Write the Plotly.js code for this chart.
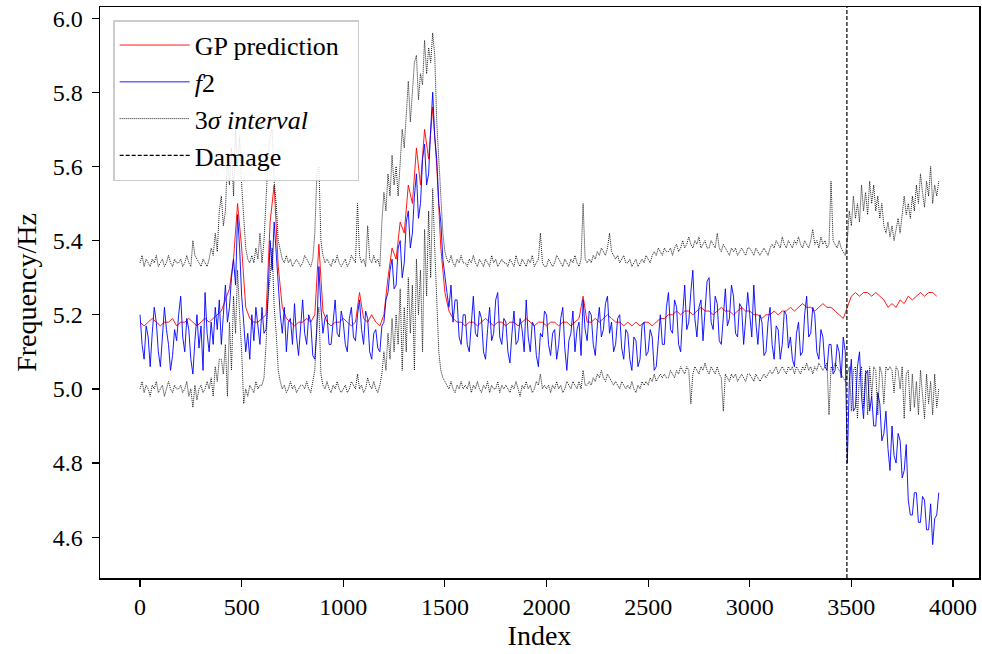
<!DOCTYPE html>
<html>
<head>
<meta charset="utf-8">
<script src="https://cdn.plot.ly/plotly-3.0.1.min.js"></script>
<style>html,body{margin:0;padding:0;background:#fff;}#chart{width:982px;height:654px;}</style>
</head>
<body>
<div id="chart"></div>
<script>
// Sample spacing of the arrays below (index units)
const GP_STEP = 20;   // GP prediction sampled every 20 indices
const F_STEP = 10;    // f2 and 3-sigma bounds sampled every 10 indices
const DAMAGE_INDEX = 3478;
const X_TICKS = [0, 500, 1000, 1500, 2000, 2500, 3000, 3500, 4000];
const Y_TICKS = [4.6, 4.8, 5.0, 5.2, 5.4, 5.6, 5.8, 6.0];

// GP prediction (rows of 10 samples = 200 index units)
const gpPrediction = [
  5.18,5.17,5.18,5.19,5.18,5.17,5.18,5.18,5.19,5.17,
  5.18,5.18,5.19,5.18,5.17,5.18,5.19,5.18,5.19,5.20,
  5.21,5.24,5.27,5.35,5.50,5.38,5.22,5.19,5.18,5.18,
  5.19,5.20,5.45,5.55,5.33,5.22,5.19,5.18,5.17,5.18,
  5.18,5.19,5.18,5.20,5.39,5.21,5.18,5.17,5.18,5.18,
  5.19,5.18,5.17,5.18,5.26,5.19,5.18,5.20,5.18,5.17,
  5.20,5.30,5.38,5.35,5.45,5.42,5.55,5.50,5.65,5.55,
  5.70,5.62,5.76,5.60,5.38,5.26,5.21,5.19,5.18,5.18,
  5.17,5.18,5.18,5.17,5.18,5.19,5.18,5.17,5.18,5.18,
  5.17,5.18,5.18,5.17,5.18,5.19,5.18,5.17,5.18,5.18,
  5.17,5.18,5.18,5.17,5.18,5.18,5.17,5.18,5.19,5.25,
  5.18,5.18,5.19,5.18,5.19,5.20,5.19,5.18,5.18,5.17,
  5.18,5.17,5.18,5.17,5.18,5.18,5.17,5.18,5.19,5.19,
  5.20,5.20,5.21,5.20,5.21,5.21,5.20,5.21,5.22,5.21,
  5.21,5.20,5.21,5.22,5.21,5.21,5.20,5.21,5.22,5.21,
  5.21,5.20,5.20,5.19,5.20,5.20,5.21,5.20,5.21,5.21,
  5.22,5.21,5.22,5.23,5.22,5.22,5.21,5.22,5.23,5.22,
  5.22,5.21,5.20,5.19,5.22,5.25,5.26,5.25,5.26,5.26,
  5.25,5.26,5.25,5.24,5.22,5.23,5.22,5.24,5.23,5.25,
  5.24,5.25,5.26,5.25,5.26,5.26,5.25
];

// measured f2 (rows of 20 samples = 200 index units)
const f2 = [
  5.20,5.12,5.08,5.17,5.14,5.06,5.15,5.22,5.18,5.10,5.06,5.14,5.22,5.16,5.12,5.05,5.09,5.16,5.13,5.20,
  5.25,5.14,5.10,5.19,5.16,5.08,5.04,5.13,5.20,5.11,5.17,5.05,5.26,5.15,5.10,5.18,5.12,5.22,5.16,5.24,
  5.12,5.20,5.28,5.18,5.22,5.30,5.35,5.28,5.47,5.38,5.25,5.18,5.10,5.15,5.08,5.20,5.13,5.22,5.16,5.12,
  5.22,5.15,5.16,5.25,5.40,5.32,5.45,5.36,5.28,5.20,5.15,5.22,5.10,5.18,5.19,5.12,5.23,5.14,5.09,5.17,
  5.24,5.15,5.12,5.20,5.18,5.09,5.08,5.16,5.33,5.22,5.15,5.19,5.20,5.12,5.12,5.18,5.24,5.15,5.14,5.21,
  5.18,5.12,5.10,5.19,5.22,5.14,5.13,5.20,5.24,5.16,5.12,5.21,5.19,5.10,5.08,5.15,5.16,5.11,5.10,5.17,
  5.18,5.24,5.26,5.32,5.35,5.27,5.28,5.38,5.40,5.30,5.34,5.45,5.48,5.38,5.42,5.52,5.58,5.46,5.50,5.62,
  5.66,5.55,5.58,5.70,5.80,5.68,5.62,5.50,5.45,5.35,5.30,5.26,5.22,5.28,5.18,5.24,5.24,5.14,5.12,5.20,
  5.20,5.12,5.10,5.18,5.25,5.15,5.14,5.21,5.19,5.10,5.08,5.16,5.22,5.13,5.15,5.24,5.26,5.14,5.12,5.19,
  5.18,5.10,5.07,5.15,5.21,5.12,5.13,5.19,5.16,5.10,5.24,5.14,5.10,5.18,5.17,5.09,5.06,5.15,5.14,5.21,
  5.20,5.12,5.09,5.15,5.16,5.08,5.12,5.19,5.22,5.11,5.05,5.13,5.15,5.21,5.10,5.16,5.18,5.09,5.24,5.16,
  5.13,5.21,5.20,5.12,5.09,5.17,5.22,5.14,5.16,5.23,5.25,5.15,5.18,5.10,5.12,5.19,5.20,5.11,5.08,5.16,
  5.15,5.08,5.05,5.14,5.13,5.06,5.08,5.17,5.18,5.09,5.10,5.16,5.14,5.05,5.06,5.13,5.20,5.12,5.12,5.22,
  5.26,5.16,5.15,5.24,5.22,5.12,5.10,5.20,5.28,5.16,5.18,5.26,5.32,5.19,5.14,5.22,5.24,5.13,5.20,5.29,
  5.30,5.18,5.16,5.25,5.23,5.13,5.12,5.20,5.27,5.17,5.19,5.28,5.25,5.15,5.14,5.23,5.22,5.12,5.18,5.26,
  5.20,5.14,5.28,5.18,5.12,5.20,5.18,5.09,5.10,5.18,5.22,5.12,5.08,5.17,5.16,5.08,5.12,5.21,5.20,5.11,
  5.14,5.08,5.06,5.15,5.18,5.09,5.10,5.20,5.25,5.14,5.15,5.22,5.20,5.10,5.08,5.16,5.14,5.06,5.05,5.12,
  5.12,5.04,5.05,5.12,5.10,5.03,5.14,5.10,4.80,5.02,5.08,4.94,4.95,5.06,5.10,4.98,4.92,5.04,5.05,4.94,
  4.98,4.90,4.90,4.99,4.96,4.86,4.88,4.94,4.84,4.78,4.90,4.82,4.80,4.88,4.86,4.76,4.78,4.85,4.70,4.66,
  4.66,4.72,4.72,4.64,4.64,4.71,4.70,4.62,4.62,4.69,4.58,4.65,4.66,4.72
];

// upper 3-sigma bound (rows of 20 samples)
const upper3s = [
  5.34,5.36,5.33,5.35,5.34,5.33,5.35,5.34,5.36,5.33,5.34,5.35,5.33,5.34,5.36,5.34,5.33,5.35,5.34,5.34,
  5.35,5.33,5.34,5.36,5.34,5.33,5.40,5.36,5.35,5.34,5.33,5.35,5.34,5.33,5.35,5.38,5.36,5.42,5.37,5.48,
  5.52,5.44,5.48,5.62,5.55,5.65,5.52,5.70,5.60,5.68,5.55,5.45,5.38,5.35,5.34,5.36,5.34,5.38,5.35,5.42,
  5.34,5.40,5.50,5.62,5.68,5.70,5.56,5.50,5.40,5.37,5.35,5.34,5.36,5.34,5.35,5.33,5.34,5.35,5.34,5.33,
  5.34,5.36,5.35,5.34,5.33,5.35,5.42,5.58,5.60,5.40,5.36,5.34,5.35,5.34,5.33,5.35,5.34,5.36,5.34,5.33,
  5.34,5.35,5.33,5.34,5.36,5.35,5.34,5.50,5.36,5.34,5.35,5.33,5.44,5.35,5.34,5.36,5.34,5.35,5.33,5.45,
  5.53,5.48,5.58,5.52,5.63,5.55,5.60,5.52,5.62,5.70,5.65,5.75,5.83,5.72,5.80,5.88,5.90,5.78,5.85,5.82,
  5.94,5.85,5.92,5.88,5.96,5.90,5.72,5.62,5.50,5.42,5.37,5.35,5.34,5.36,5.34,5.33,5.35,5.34,5.36,5.34,
  5.34,5.33,5.35,5.34,5.36,5.34,5.33,5.35,5.34,5.33,5.35,5.34,5.33,5.36,5.34,5.35,5.33,5.34,5.35,5.34,
  5.34,5.33,5.35,5.34,5.33,5.36,5.34,5.33,5.35,5.34,5.33,5.35,5.34,5.36,5.33,5.34,5.35,5.42,5.34,5.33,
  5.33,5.35,5.34,5.33,5.34,5.36,5.35,5.34,5.33,5.35,5.34,5.33,5.35,5.34,5.36,5.34,5.33,5.35,5.50,5.35,
  5.34,5.35,5.34,5.36,5.35,5.37,5.36,5.38,5.37,5.36,5.38,5.42,5.37,5.36,5.35,5.36,5.34,5.35,5.36,5.34,
  5.34,5.35,5.33,5.34,5.35,5.33,5.34,5.35,5.34,5.36,5.35,5.34,5.36,5.37,5.36,5.38,5.37,5.36,5.38,5.37,
  5.37,5.38,5.36,5.38,5.39,5.37,5.38,5.40,5.38,5.39,5.41,5.39,5.38,5.40,5.39,5.41,5.38,5.39,5.40,5.38,
  5.38,5.40,5.39,5.38,5.42,5.38,5.37,5.39,5.38,5.37,5.36,5.38,5.37,5.38,5.36,5.37,5.38,5.37,5.36,5.38,
  5.38,5.37,5.36,5.38,5.37,5.36,5.37,5.38,5.37,5.36,5.38,5.39,5.38,5.40,5.39,5.38,5.41,5.39,5.38,5.40,
  5.39,5.38,5.40,5.39,5.41,5.39,5.38,5.40,5.39,5.38,5.40,5.43,5.39,5.40,5.38,5.41,5.39,5.40,5.38,5.39,
  5.56,5.40,5.39,5.38,5.40,5.38,5.37,5.36,5.40,5.48,5.44,5.52,5.46,5.50,5.45,5.55,5.48,5.53,5.47,5.56,
  5.50,5.55,5.48,5.52,5.46,5.50,5.44,5.42,5.45,5.41,5.44,5.40,5.43,5.46,5.42,5.48,5.52,5.47,5.50,5.46,
  5.52,5.48,5.55,5.50,5.58,5.53,5.49,5.56,5.52,5.60,5.50,5.55,5.52,5.56
];

// lower 3-sigma bound (rows of 20 samples)
const lower3s = [
  5.00,5.02,4.99,5.01,5.00,4.98,5.01,5.00,5.02,4.99,5.00,5.01,4.98,5.00,5.02,5.00,4.99,5.01,5.00,5.00,
  5.01,4.99,5.00,5.02,4.98,5.00,4.95,5.01,4.97,5.00,5.01,4.99,5.00,5.02,5.00,5.03,4.98,5.06,5.02,5.08,
  5.08,5.04,5.12,4.98,5.18,5.05,5.25,5.15,5.32,5.20,5.10,4.96,5.00,4.98,5.01,5.00,4.99,5.02,5.00,5.01,
  5.01,5.03,5.12,5.25,5.30,5.38,5.22,5.15,5.05,5.02,5.00,5.01,4.99,5.00,5.02,5.00,5.01,4.99,5.00,5.01,
  5.01,5.00,5.02,5.00,4.99,5.02,5.05,5.18,5.22,5.04,5.01,5.00,5.02,5.00,4.99,5.01,5.00,5.02,5.00,4.99,
  5.00,5.01,4.99,5.00,5.02,5.01,5.00,5.04,5.00,5.01,4.99,5.00,5.03,5.01,5.00,5.02,5.00,4.99,5.01,5.04,
  5.10,5.05,5.15,5.08,5.19,5.10,5.20,5.12,5.27,5.05,5.22,5.10,5.30,5.15,5.28,5.05,5.35,5.20,5.32,5.10,
  5.43,5.25,5.48,5.30,5.54,5.38,5.23,5.10,5.05,5.03,5.02,5.01,5.00,5.02,5.00,4.99,5.01,5.00,5.02,5.00,
  5.01,5.00,5.02,4.99,5.01,5.00,5.02,5.00,4.99,5.01,5.00,5.02,4.99,5.01,5.00,5.00,5.02,4.99,5.01,5.00,
  5.01,5.00,4.99,5.01,5.00,5.02,5.00,4.98,5.01,5.00,5.02,5.00,5.01,4.99,5.00,5.02,5.01,5.04,5.00,5.01,
  5.00,5.01,4.99,5.01,5.00,5.02,5.00,5.01,4.99,5.00,5.02,5.01,5.00,5.02,5.01,5.00,5.02,5.00,5.05,5.01,
  5.01,5.02,5.01,5.03,5.02,5.04,5.03,5.05,5.03,5.02,5.04,5.03,5.02,5.01,5.02,5.01,5.00,5.02,5.01,5.00,
  5.01,5.00,5.02,5.00,4.99,5.01,5.00,5.02,5.01,5.02,5.01,5.03,5.02,5.04,5.02,5.03,5.04,5.03,5.04,5.03,
  5.03,5.05,5.04,5.03,5.05,5.04,5.06,5.05,5.04,5.06,5.05,4.96,5.04,5.06,5.05,5.04,5.06,5.05,5.07,5.05,
  5.04,5.06,5.05,5.04,5.06,5.04,5.03,4.94,5.04,5.03,5.02,5.04,5.03,5.04,5.02,5.03,5.04,5.03,5.02,5.04,
  5.04,5.03,5.02,5.04,5.03,5.02,5.03,5.04,5.03,5.04,5.05,5.04,5.05,5.06,5.04,5.05,5.06,5.05,5.04,5.06,
  5.05,5.06,5.04,5.06,5.05,5.04,5.06,5.05,5.07,5.05,5.06,5.04,5.06,5.05,5.07,5.06,5.05,5.06,5.07,4.93,
  5.06,5.05,5.07,5.06,5.05,5.04,5.03,5.02,5.04,5.06,4.94,5.05,5.06,4.92,5.04,5.06,4.95,5.05,4.93,5.06,
  4.98,5.06,5.05,4.93,5.06,5.04,4.96,5.06,5.05,5.06,5.05,4.99,5.06,5.05,5.00,5.06,4.92,5.04,5.05,4.94,
  5.04,4.95,5.02,4.93,5.05,4.98,4.92,5.04,4.96,5.02,4.93,5.04,4.95,5.00
];

const Y_RANGE = [4.49, 6.03];
const X_RANGE = [-197, 4128];

const gpIndex = gpPrediction.map((_, i) => i * GP_STEP);
const fIndex = f2.map((_, i) => i * F_STEP);
const FONT = 'Liberation Serif, Times New Roman, serif';

const traces = [
  {x: gpIndex, y: gpPrediction, type: 'scatter', mode: 'lines', name: 'GP prediction\u00a0\u00a0',
   line: {color: '#ff0000', width: 0.9}},
  {x: fIndex, y: f2, type: 'scatter', mode: 'lines', name: '<i>f</i>2',
   line: {color: '#0000ff', width: 0.9}},
  {x: fIndex, y: upper3s, type: 'scatter', mode: 'lines', name: '3<i>σ interval</i>',
   line: {color: '#000000', width: 0.9, dash: '1px,1px'}, legendgroup: 'ci'},
  {x: fIndex, y: lower3s, type: 'scatter', mode: 'lines', name: '3σ lower',
   line: {color: '#000000', width: 0.9, dash: '1px,1px'}, legendgroup: 'ci', showlegend: false},
  {x: [DAMAGE_INDEX, DAMAGE_INDEX], y: Y_RANGE, type: 'scatter', mode: 'lines', name: 'Damage',
   line: {color: '#000000', width: 1.2, dash: '4px,2px'}}
];

const axisCommon = {
  showgrid: false, zeroline: false, showline: true, mirror: true,
  linecolor: '#000', linewidth: 1.5, ticks: 'outside', ticklen: 7, tickwidth: 1.2,
  tickcolor: '#000', tickfont: {family: FONT, size: 24, color: '#000'}
};

const layout = {
  width: 982, height: 654,
  margin: {l: 100, r: 3, t: 7, b: 76},
  paper_bgcolor: '#fff', plot_bgcolor: '#fff',
  font: {family: FONT, color: '#000'},
  showlegend: true,
  xaxis: Object.assign({}, axisCommon, {
    range: X_RANGE, tickvals: X_TICKS, ticktext: X_TICKS.map(String),
    title: {text: 'Index', font: {family: FONT, size: 28, color: '#000'}, standoff: 6}
  }),
  yaxis: Object.assign({}, axisCommon, {
    range: Y_RANGE, tickvals: Y_TICKS, ticktext: Y_TICKS.map(v => v.toFixed(1)),
    ticklabelstandoff: 4,
    title: {text: 'Frequency/Hz', font: {family: FONT, size: 28, color: '#000'}, standoff: 8}
  }),
  legend: {
    x: 0.015, y: 0.977, xanchor: 'left', yanchor: 'top',
    bgcolor: 'rgba(255,255,255,0.85)', bordercolor: '#cccccc', borderwidth: 1.5,
    font: {family: FONT, size: 26, color: '#000'},
    tracegroupgap: 0, itemwidth: 70
  }
};

Plotly.newPlot('chart', traces, layout, {displayModeBar: false, staticPlot: true});
</script>
</body>
</html>
